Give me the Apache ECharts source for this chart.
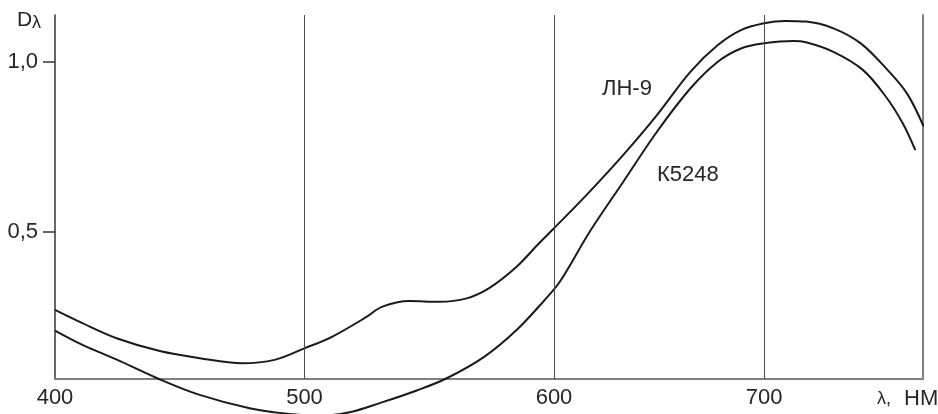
<!DOCTYPE html>
<html>
<head>
<meta charset="utf-8">
<script src="https://cdn.jsdelivr.net/npm/echarts@6/dist/echarts.min.js"></script>
<style>html,body{margin:0;padding:0;background:#fff}#c{width:938px;height:414px}</style>
</head>
<body>
<div id="c"></div>
<script>
// Wavelengths (nm) and optical density
const lambdaLN9 = [400, 411, 425, 442, 458, 475, 488, 500, 511, 525, 531, 542, 554, 565, 574, 585, 594, 600, 617, 633, 649, 665, 678, 689, 700, 710, 720, 733, 746, 758, 768, 776];
const dLN9      = [0.270, 0.231, 0.186, 0.149, 0.128, 0.113, 0.123, 0.157, 0.191, 0.250, 0.279, 0.296, 0.294, 0.304, 0.334, 0.397, 0.466, 0.510, 0.618, 0.726, 0.843, 0.971, 1.049, 1.093, 1.113, 1.120, 1.118, 1.098, 1.054, 0.981, 0.907, 0.809];
const lambdaK5248 = [400, 411, 425, 441, 458, 478, 494, 506, 518, 531, 545, 557, 572, 585, 596, 603, 617, 633, 649, 665, 678, 689, 700, 714, 720, 733, 747, 758, 766, 772];
const dK5248      = [0.209, 0.167, 0.123, 0.069, 0.020, -0.019, -0.036, -0.041, -0.031, -0.002, 0.033, 0.069, 0.132, 0.211, 0.297, 0.355, 0.500, 0.647, 0.794, 0.922, 1.000, 1.039, 1.054, 1.061, 1.057, 1.029, 0.976, 0.897, 0.819, 0.740];
const xTickLambdas = [400, 500, 600, 700];
const xGridLambdas = [500, 600, 700];
const yTickValues = [0.5, 1.0];
const seriesNames = ['ЛН-9', 'К5248'];

// The original drawing compresses the 600–700 nm interval
const WARP_FACTOR = 0.842;
function warp(l) { return l <= 600 ? l : 600 + (l - 600) * WARP_FACTOR; }
function unwarp(p) { return p <= 600 ? p : 600 + (p - 600) / WARP_FACTOR; }

const chart = echarts.init(document.getElementById('c'), null, {renderer: 'canvas'});
const FONT = 'Liberation Sans, Arial, sans-serif';
const TXT = '#262626';

const lineData = (ls, ds) => ls.map((l, i) => [warp(l), ds[i]]);

chart.setOption({
  animation: false,
  grid: {left: 55, right: 15, top: 15, bottom: 35},
  xAxis: {
    type: 'value', min: 400, max: 747.9,
    axisLine: {show: true, onZero: false, lineStyle: {color: '#808080', width: 2}},
    axisTick: {show: false},
    splitLine: {show: false},
    axisLabel: {
      customValues: xTickLambdas.map(warp),
      formatter: v => String(Math.round(unwarp(v))),
      color: TXT, fontSize: 22, fontFamily: FONT, margin: 8
    }
  },
  yAxis: [{
    type: 'value', min: 0.0668, max: 1.1374,
    axisLine: {show: true, lineStyle: {color: '#333', width: 1.5}},
    axisTick: {show: true, customValues: yTickValues, length: 12, lineStyle: {color: '#333', width: 1.5}},
    splitLine: {show: false},
    axisLabel: {
      customValues: yTickValues,
      formatter: v => v.toFixed(1).replace('.', ','),
      color: TXT, fontSize: 22, fontFamily: FONT, margin: 17
    }
  }, {
    type: 'value', position: 'right', min: 0.0668, max: 1.1374,
    axisLine: {show: true, lineStyle: {color: '#808080', width: 2}},
    axisTick: {show: false}, axisLabel: {show: false}, splitLine: {show: false}
  }],
  series: [{
    name: seriesNames[0], type: 'line', smooth: 0.35, symbol: 'none', clip: false,
    data: lineData(lambdaLN9, dLN9),
    lineStyle: {color: '#1a1a1a', width: 2},
    markLine: {
      silent: true, symbol: ['none', 'none'], label: {show: false},
      lineStyle: {color: '#4a4a4a', width: 1, type: 'solid'},
      data: xGridLambdas.map(l => ({xAxis: warp(l)}))
    }
  }, {
    name: seriesNames[1], type: 'line', smooth: 0.35, symbol: 'none', clip: false,
    data: lineData(lambdaK5248, dK5248),
    lineStyle: {color: '#1a1a1a', width: 2}
  }],
  graphic: [
    {type: 'text', left: 17, top: 10, style: {text: 'D', fontSize: 21, fontFamily: FONT, fill: TXT}},
    {type: 'text', left: 32, top: 14, style: {text: 'λ', fontSize: 18, fontFamily: FONT, fill: TXT}},
    {type: 'text', left: 877, top: 390, style: {text: 'λ,', fontSize: 18, fontFamily: FONT, fill: TXT}},
    {type: 'text', left: 904, top: 388, style: {text: 'НМ', fontSize: 22, fontFamily: FONT, fill: TXT}},
    {type: 'text', left: 602, top: 78, style: {text: seriesNames[0], fontSize: 22, fontFamily: FONT, fill: TXT}},
    {type: 'text', left: 657, top: 164, style: {text: seriesNames[1], fontSize: 22, fontFamily: FONT, fill: TXT}}
  ]
});
</script>
</body>
</html>
